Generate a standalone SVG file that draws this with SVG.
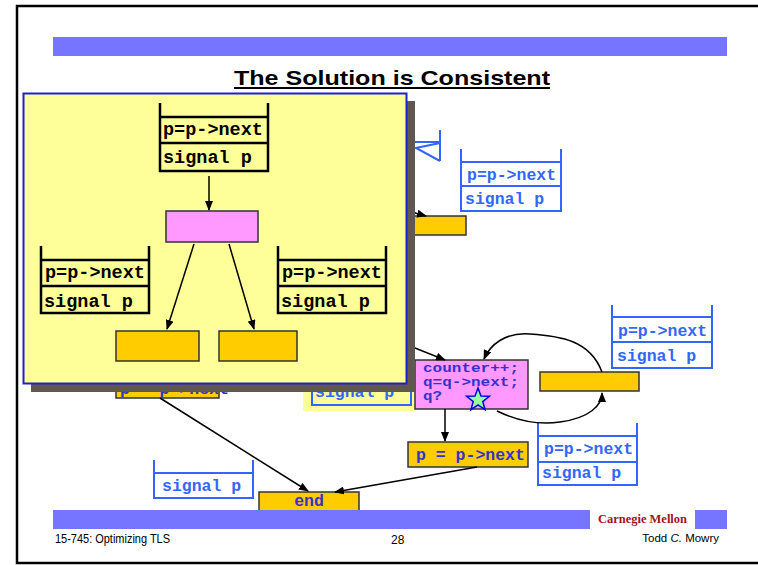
<svg xmlns="http://www.w3.org/2000/svg" width="758" height="565" viewBox="0 0 758 565">
<defs>
<marker id="ah" markerUnits="userSpaceOnUse" markerWidth="10" markerHeight="8" refX="9" refY="4" orient="auto">
<path d="M0,0 L10,4 L0,8 Z" fill="#000"/>
</marker>
<style>
.bar{fill:#7575FF}
.bst{fill:none;stroke:#3366FF;stroke-width:2}
.btx{font-family:"Liberation Mono",monospace;font-weight:bold;font-size:16.5px;fill:#3366FF}
.kst{fill:none;stroke:#000;stroke-width:2.5}
.ktx{font-family:"Liberation Mono",monospace;font-weight:bold;font-size:18.5px;fill:#000}
.org{fill:#FFCC00;stroke:#333;stroke-width:1.5}
.pnk{fill:#FF99FF;stroke:#333;stroke-width:1.5}
.ptx{font-family:"Liberation Mono",monospace;font-weight:bold;font-size:16.5px;fill:#3333CC}
.psm{font-family:"Liberation Mono",monospace;font-weight:bold;font-size:12.5px;fill:#3333CC}
.con{fill:none;stroke:#000;stroke-width:1.5}
.foot{font-family:"Liberation Sans",sans-serif;font-size:12px;fill:#000}
</style>
</defs>
<rect width="758" height="565" fill="#fff"/>
<rect x="17" y="6" width="760" height="557" fill="none" stroke="#000" stroke-width="2.5"/>
<g id="header">
<rect class="bar" x="53" y="37" width="674" height="19"/>
<text x="392" y="85" text-anchor="middle" font-family="'Liberation Sans',sans-serif" font-weight="bold" font-size="21" textLength="316" lengthAdjust="spacingAndGlyphs">The Solution is Consistent</text>
<line x1="234" y1="88" x2="550" y2="88" stroke="#000" stroke-width="2"/>
</g>
<g id="frag">
<line class="bst" x1="440" y1="130" x2="440" y2="161"/>
<polyline class="bst" points="380,142 440,142"/>
<polyline class="bst" points="440,143 416,148 440,161"/>
</g>
<g id="stackA">
<polyline class="bst" points="461,149 461,211 561,211 561,149"/>
<line class="bst" x1="461" y1="162" x2="561" y2="162"/>
<line class="bst" x1="461" y1="186" x2="561" y2="186"/>
<text class="btx" x="467" y="180">p=p-&gt;next</text>
<text class="btx" x="465" y="204">signal p</text>
</g>
<g id="rectB"><rect class="org" x="380" y="216" width="86" height="19"/></g>
<g id="stackC">
<rect x="303" y="300" width="112" height="111" fill="#FFFF99"/>
<polyline class="bst" points="312,300 312,405 411,405 411,300"/>
<line class="bst" x1="312" y1="381" x2="411" y2="381"/>
<text class="btx" x="315" y="397">signal p</text>
</g>
<g id="rectD">
<rect class="org" x="116" y="373" width="103" height="25"/>
<text class="ptx" x="120" y="394">p = p-&gt;next</text>
</g>
<g id="stackG">
<polyline class="bst" points="612,305 612,368 712,368 712,305"/>
<line class="bst" x1="612" y1="317" x2="712" y2="317"/>
<line class="bst" x1="612" y1="342" x2="712" y2="342"/>
<text class="btx" x="618" y="336">p=p-&gt;next</text>
<text class="btx" x="617" y="361">signal p</text>
</g>
<g id="stackH">
<polyline class="bst" points="538,423 538,485 637,485 637,423"/>
<line class="bst" x1="538" y1="436" x2="637" y2="436"/>
<line class="bst" x1="538" y1="462" x2="637" y2="462"/>
<text class="btx" x="544" y="454">p=p-&gt;next</text>
<text class="btx" x="542" y="478">signal p</text>
</g>
<g id="stackJ">
<polyline class="bst" points="154,460 154,498 253,498 253,460"/>
<line class="bst" x1="154" y1="473" x2="253" y2="473"/>
<text class="btx" x="162" y="491">signal p</text>
</g>
<g id="nodeE">
<rect class="pnk" x="415" y="360" width="113" height="49"/>
<text class="psm" x="423" y="372" textLength="96" lengthAdjust="spacingAndGlyphs">counter++;</text>
<text class="psm" x="423" y="386" textLength="96" lengthAdjust="spacingAndGlyphs">q=q-&gt;next;</text>
<text class="psm" x="423" y="400" textLength="19" lengthAdjust="spacingAndGlyphs">q?</text>
<polygon points="478,388 480.94,395.95 489.41,396.29 482.76,401.55 485.05,409.71 478,405 470.95,409.71 473.24,401.55 466.59,396.29 475.06,395.95" fill="#99FF99" stroke="#0000EE" stroke-width="1.5"/>
</g>
<g id="nodeF"><rect class="org" x="540" y="372" width="99" height="19"/></g>
<g id="nodeI">
<rect class="org" x="408" y="442" width="120" height="25"/>
<text class="ptx" x="416" y="460">p = p-&gt;next</text>
</g>
<g id="nodeEnd">
<rect class="org" x="259" y="492" width="100" height="19"/>
<text class="ptx" x="309" y="506" text-anchor="middle">end</text>
</g>
<g id="connectors">
<line class="con" x1="390" y1="206" x2="426" y2="216" marker-end="url(#ah)"/>
<line class="con" x1="380" y1="334" x2="445" y2="360" marker-end="url(#ah)"/>
<line class="con" x1="445" y1="409" x2="445" y2="441" marker-end="url(#ah)"/>
<path class="con" d="M602,372 C590,340 560,336 530,334 C505,332 490,345 484,359" marker-end="url(#ah)"/>
<path class="con" d="M497,411 C520,422 540,425 560,422 C590,418 602,405 602,393" marker-end="url(#ah)"/>
<line class="con" x1="477" y1="467" x2="335" y2="492" marker-end="url(#ah)"/>
<line class="con" x1="160" y1="398" x2="308" y2="491" marker-end="url(#ah)"/>
</g>
<g id="popup">
<rect x="31" y="101" width="384" height="291" fill="#5F5850"/>
<rect x="23.5" y="93.5" width="383" height="290" fill="#FFFF99" stroke="#2020CC" stroke-width="2"/>
<g id="popTop">
<polyline class="kst" points="160,103 160,171 268,171 268,103"/>
<line class="kst" x1="160" y1="117" x2="268" y2="117"/>
<line class="kst" x1="160" y1="143" x2="268" y2="143"/>
<text class="ktx" x="163" y="135">p=p-&gt;next</text>
<text class="ktx" x="163" y="163">signal p</text>
</g>
<g id="popPink"><rect class="pnk" x="166" y="211" width="92" height="31"/></g>
<g id="popLeft">
<polyline class="kst" points="41,246 41,313 149,313 149,246"/>
<line class="kst" x1="41" y1="260" x2="149" y2="260"/>
<line class="kst" x1="41" y1="286" x2="149" y2="286"/>
<text class="ktx" x="45" y="278">p=p-&gt;next</text>
<text class="ktx" x="44" y="307">signal p</text>
</g>
<g id="popRight">
<polyline class="kst" points="278,246 278,313 386,313 386,246"/>
<line class="kst" x1="278" y1="260" x2="386" y2="260"/>
<line class="kst" x1="278" y1="286" x2="386" y2="286"/>
<text class="ktx" x="282" y="278">p=p-&gt;next</text>
<text class="ktx" x="281" y="307">signal p</text>
</g>
<g id="popOrgL"><rect class="org" x="116" y="331" width="83" height="30"/></g>
<g id="popOrgR"><rect class="org" x="219" y="331" width="78" height="30"/></g>
<g id="popConnectors">
<line class="con" x1="209" y1="176" x2="209" y2="210" marker-end="url(#ah)"/>
<line class="con" x1="194" y1="244" x2="167" y2="329" marker-end="url(#ah)"/>
<line class="con" x1="229" y1="244" x2="254" y2="329" marker-end="url(#ah)"/>
</g>
</g>
<g id="footer">
<rect class="bar" x="53" y="510" width="537" height="19"/>
<rect class="bar" x="695" y="510" width="32" height="19"/>
<text x="598" y="523" font-family="'Liberation Serif',serif" font-weight="bold" font-size="13" fill="#A0141E" textLength="89" lengthAdjust="spacingAndGlyphs">Carnegie Mellon</text>
<text class="foot" x="55" y="543" textLength="115" lengthAdjust="spacingAndGlyphs">15-745: Optimizing TLS</text>
<text class="foot" x="391" y="544">28</text>
<text class="foot" x="719" y="542" text-anchor="end" style="font-size:11.5px">Todd <tspan font-style="italic">C.</tspan> Mowry</text>
</g>
</svg>
